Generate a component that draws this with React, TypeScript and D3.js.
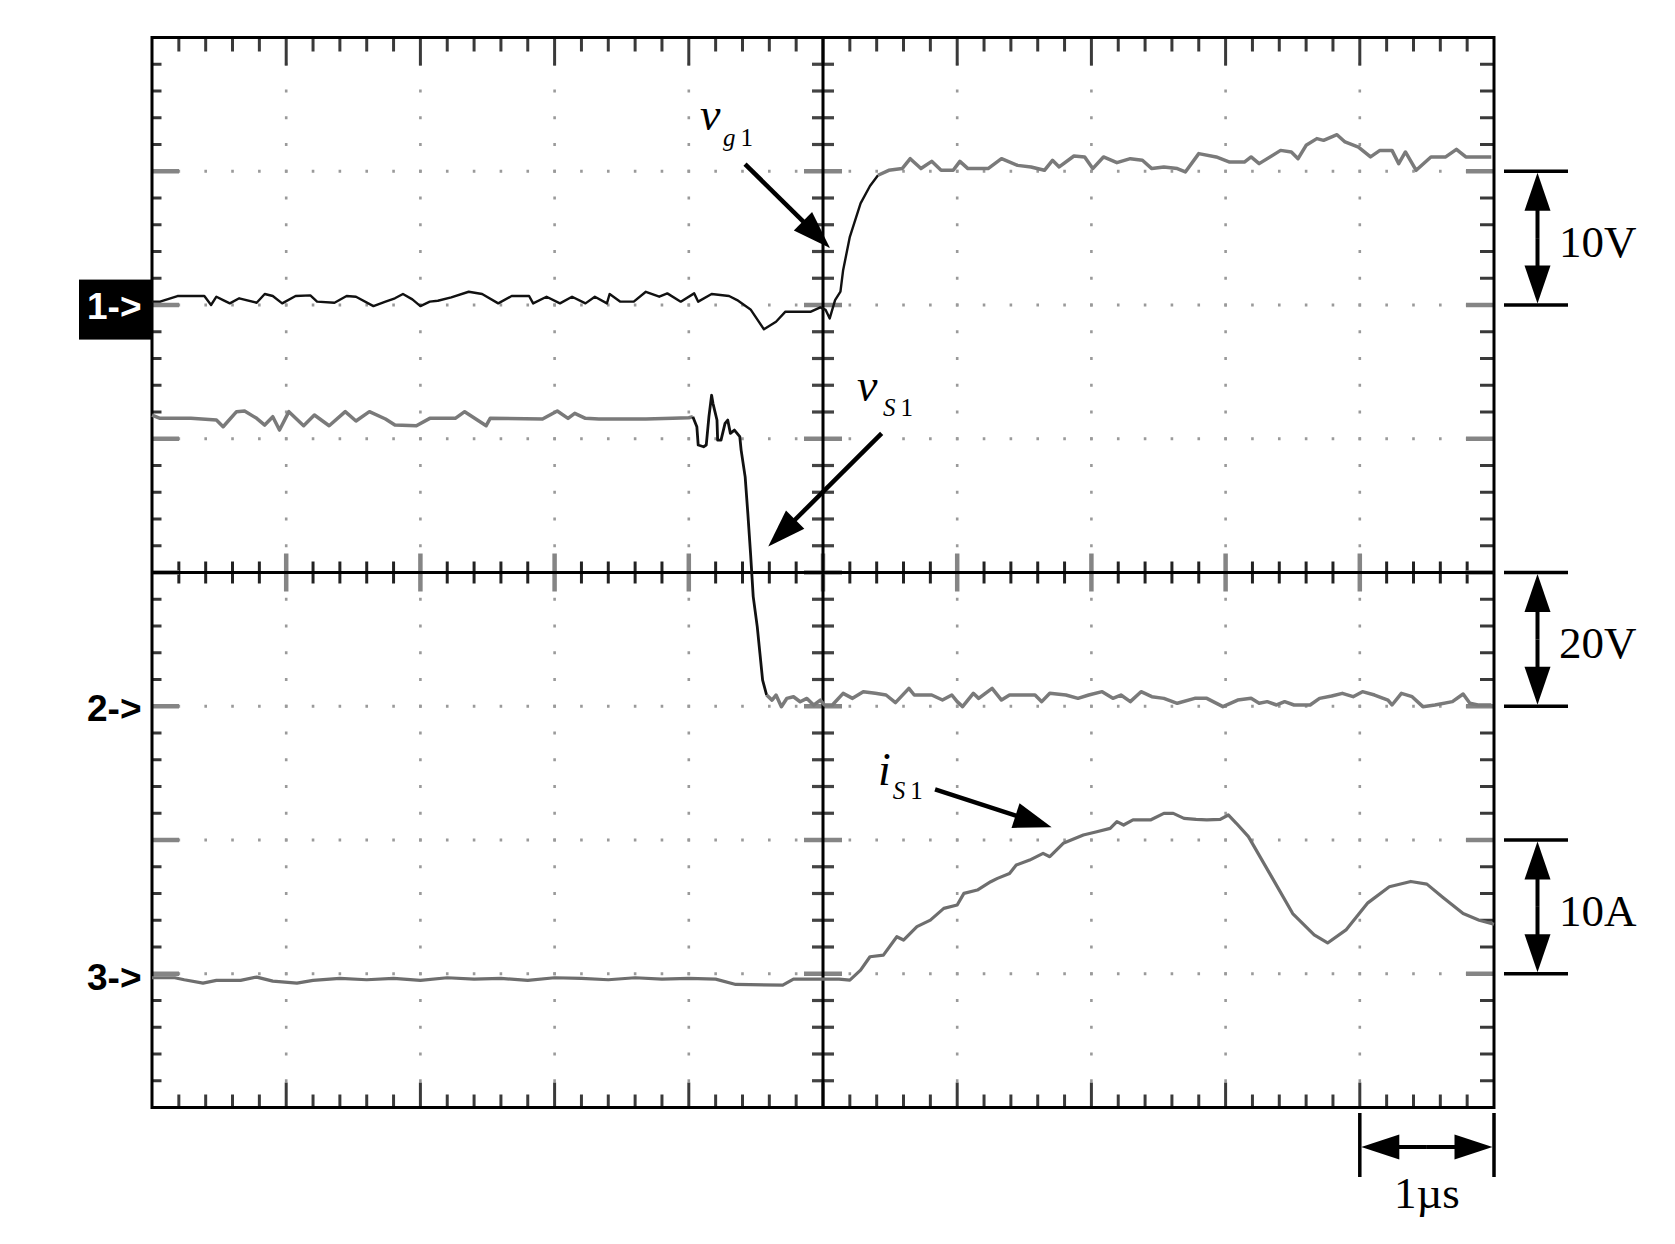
import React from 'react';
import * as d3 from 'd3';

// ---- data (time in µs, channel values in their own units) ----
const vg1T = [-5.0,-4.94,-4.81,-4.61,-4.56,-4.52,-4.47,-4.42,-4.35,-4.22,-4.16,-4.10,-4.03,-3.93,-3.82,-3.77,-3.64,-3.55,-3.48,-3.35,-3.26,-3.19,-3.13,-3.06,-3.00,-2.93,-2.87,-2.77,-2.64,-2.54,-2.42,-2.32,-2.19,-2.16,-2.06,-1.96,-1.87,-1.77,-1.70,-1.61,-1.59,-1.51,-1.41,-1.32,-1.22,-1.16,-1.06,-0.96,-0.93,-0.83,-0.70,-0.64,-0.54,-0.44,-0.35,-0.28,-0.09,-0.02,0.02,0.05,0.09,0.13,0.15,0.20,0.28,0.35,0.41,0.49,0.59,0.65,0.73,0.81,0.88,0.97,1.02,1.08,1.23,1.33,1.45,1.55,1.65,1.71,1.76,1.87,1.95,2.01,2.09,2.19,2.29,2.38,2.45,2.54,2.64,2.70,2.80,2.93,3.03,3.14,3.19,3.25,3.41,3.49,3.54,3.60,3.68,3.73,3.83,3.89,3.99,4.08,4.15,4.24,4.29,4.34,4.42,4.53,4.64,4.72,4.79,4.98];
const vg1V = [0.25,0.25,0.67,0.67,0.0,0.62,0.37,0.12,0.50,0.17,0.82,0.67,0.12,0.67,0.72,0.25,0.17,0.67,0.62,-0.08,0.25,0.50,0.82,0.42,-0.08,0.25,0.32,0.57,0.99,0.82,0.12,0.67,0.67,0.12,0.62,0.12,0.62,0.12,0.62,0.12,0.82,0.25,0.25,0.99,0.62,0.87,0.25,0.87,0.25,0.82,0.67,0.37,-0.33,-1.82,-1.25,-0.50,-0.50,-0.18,-0.37,-1.0,0.37,1.0,2.6,5.1,7.6,8.9,9.7,10.07,10.2,10.94,10.2,10.74,10.07,10.07,10.74,10.2,10.2,10.94,10.44,10.32,10.07,10.82,10.32,11.14,11.07,10.2,11.07,10.64,10.94,10.82,10.2,10.32,10.2,9.95,11.32,11.07,10.69,10.69,11.07,10.57,11.56,11.44,10.94,11.94,12.44,12.31,12.73,12.19,11.81,11.07,11.56,11.56,10.57,11.44,10.07,11.07,11.07,11.64,11.07,11.07];

const vs1T = [-5.0,-4.94,-4.71,-4.52,-4.47,-4.37,-4.31,-4.22,-4.16,-4.10,-4.05,-3.98,-3.87,-3.79,-3.68,-3.56,-3.48,-3.38,-3.26,-3.19,-3.03,-2.93,-2.74,-2.67,-2.51,-2.48,-2.09,-1.98,-1.90,-1.85,-1.77,-1.67,-1.32,-1.12,-1.00,-0.97,-0.94,-0.93,-0.89,-0.87,-0.85,-0.83,-0.82,-0.79,-0.785,-0.76,-0.73,-0.71,-0.69,-0.66,-0.62,-0.61,-0.58,-0.56,-0.54,-0.52,-0.49,-0.47,-0.45,-0.42,-0.38,-0.35,-0.31,-0.27,-0.22,-0.17,-0.12,-0.07,-0.02,0.01,0.07,0.15,0.22,0.30,0.39,0.47,0.54,0.64,0.68,0.81,0.89,0.96,1.00,1.04,1.12,1.16,1.26,1.33,1.39,1.58,1.63,1.69,1.81,1.90,1.98,2.08,2.16,2.22,2.29,2.37,2.45,2.54,2.64,2.77,2.86,2.98,3.09,3.19,3.25,3.31,3.38,3.44,3.51,3.63,3.70,3.79,3.87,3.95,4.02,4.11,4.21,4.24,4.31,4.39,4.47,4.56,4.69,4.77,4.82,4.88,4.98];
const vs1V = [43.55,43.05,43.05,42.8,41.8,44.05,44.15,43.05,42.05,43.3,41.3,44.05,41.95,43.55,41.95,44.05,42.65,44.05,42.95,42.05,41.95,43.05,43.05,44.05,41.95,43.05,42.95,44.15,43.05,43.8,43.05,42.95,42.95,43.05,43.15,43.3,41.8,39.06,38.8,39.06,43.3,46.5,45.3,42.8,39.8,39.8,42.3,42.8,40.8,41.3,40.3,38.3,34.3,28.8,22.9,16.4,11.9,7.9,3.9,1.67,0.92,1.67,-0.07,1.17,1.42,0.67,1.17,0.17,0.92,0.19,0.19,1.93,1.18,2.18,1.93,1.68,0.54,2.68,1.68,1.68,0.93,1.68,0.69,-0.06,1.93,1.18,2.68,0.93,1.68,1.68,0.69,1.93,1.68,1.18,1.68,2.18,1.18,1.68,0.69,2.18,1.43,1.18,0.44,1.18,1.18,-0.06,0.93,1.18,0.44,0.69,0.19,0.69,0.19,0.19,1.18,1.53,1.93,1.43,2.18,1.68,0.93,0.19,1.93,1.43,-0.06,0.19,0.69,1.83,0.44,0.19,0.19];

const is1T = [-5.0,-4.83,-4.76,-4.62,-4.52,-4.34,-4.22,-4.10,-3.92,-3.80,-3.60,-3.40,-3.20,-3.00,-2.80,-2.60,-2.40,-2.20,-2.00,-1.80,-1.60,-1.40,-1.20,-1.00,-0.80,-0.65,-0.30,-0.22,0.12,0.20,0.28,0.35,0.45,0.55,0.60,0.70,0.80,0.90,1.00,1.05,1.15,1.25,1.30,1.39,1.44,1.54,1.64,1.69,1.79,1.94,2.04,2.14,2.19,2.24,2.31,2.44,2.54,2.61,2.69,2.78,2.86,2.96,3.02,3.08,3.17,3.34,3.50,3.66,3.76,3.90,4.06,4.22,4.38,4.50,4.62,4.77,4.89,5.0];
const is1A = [-0.3,-0.3,-0.45,-0.7,-0.5,-0.5,-0.25,-0.55,-0.7,-0.5,-0.35,-0.45,-0.35,-0.5,-0.3,-0.4,-0.35,-0.5,-0.3,-0.35,-0.45,-0.3,-0.4,-0.35,-0.4,-0.8,-0.85,-0.4,-0.4,-0.48,0.27,1.27,1.39,2.77,2.52,3.52,4.01,4.89,5.14,6.01,6.26,6.88,7.13,7.5,8.13,8.5,9.0,8.75,9.75,10.37,10.62,10.87,11.37,11.12,11.5,11.5,11.99,11.99,11.62,11.54,11.5,11.54,11.87,11.25,10.25,7.3,4.5,2.9,2.3,3.3,5.3,6.5,6.9,6.7,5.7,4.5,4.0,3.7];

const channelMarkers = ['1->', '2->', '3->'];
const scaleLabels = ['10V', '20V', '10A'];
const timeLabel = '1µs';

// ---- layout ----
const W = 1675, H = 1244;
const X0 = 152, X1 = 1494, Y0 = 37.5, Y1 = 1107.5;

type P = [number, number];
const zip = (a: number[], b: number[]): P[] => a.map((t, i) => [t, b[i]]);
const between = (pts: P[], lo: number, hi: number) => pts.filter(p => p[0] >= lo && p[0] <= hi);

function Arrow({ x1, y1, x2, y2, len = 38, hw = 13, w = 4.5 }: any) {
  const dx = x2 - x1, dy = y2 - y1, L = Math.hypot(dx, dy);
  const ux = dx / L, uy = dy / L;
  const bx = x2 - ux * len, by = y2 - uy * len;
  const px = -uy, py = ux;
  return (
    <g>
      <line x1={x1} y1={y1} x2={bx + ux * 2} y2={by + uy * 2} stroke="#000" strokeWidth={w} />
      <polygon points={`${x2},${y2} ${bx + px * hw},${by + py * hw} ${bx - px * hw},${by - py * hw}`} fill="#000" />
    </g>
  );
}

export default function App() {
  const x = d3.scaleLinear().domain([-5, 5]).range([X0, X1]);
  const xd = d3.scaleLinear().domain([0, 10]).range([X0, X1]);
  const yd = d3.scaleLinear().domain([0, 8]).range([Y1, Y0]);
  const y1 = d3.scaleLinear().domain([-60, 20]).range([Y1, Y0]);   // ch1 10 V/div
  const y2 = d3.scaleLinear().domain([-60, 100]).range([Y1, Y0]);  // ch2 20 V/div
  const y3 = d3.scaleLinear().domain([-10, 70]).range([Y1, Y0]);   // ch3 10 A/div

  const l1 = d3.line<P>().x(d => x(d[0])).y(d => y1(d[1]));
  const l2 = d3.line<P>().x(d => x(d[0])).y(d => y2(d[1]));
  const l3 = d3.line<P>().x(d => x(d[0])).y(d => y3(d[1]));

  const vg1 = zip(vg1T, vg1V);
  const vs1 = zip(vs1T, vs1V);
  const is1 = zip(is1T, is1A);

  const minorX = d3.range(1, 50);
  const minorY = d3.range(1, 40);
  const tickCol = '#3a3a3a';
  const majorCol = '#858585';
  const cx = xd(5), cy = yd(4);

  const dots: JSX.Element[] = [];
  [1, 2, 3, 4, 6, 7, 8, 9].forEach(k => {
    minorY.forEach(j => dots.push(<rect key={`v${k}-${j}`} x={xd(k) - 1.3} y={yd(j / 5) - 1.5} width={2.6} height={3} fill="#9a9a9a" />));
  });
  [1, 2, 3, 5, 6, 7].forEach(k => {
    minorX.forEach(i => dots.push(<rect key={`h${k}-${i}`} x={xd(i / 5) - 1.3} y={yd(k) - 1.5} width={2.6} height={3} fill="#9a9a9a" />));
  });

  const ticks: JSX.Element[] = [];
  minorX.forEach(i => {
    const X = xd(i / 5), maj = i % 5 === 0;
    ticks.push(<line key={`t${i}`} x1={X} x2={X} y1={Y0} y2={Y0 + (maj ? 28 : 14)} stroke={tickCol} strokeWidth={3} />);
    ticks.push(<line key={`b${i}`} x1={X} x2={X} y1={Y1} y2={Y1 - (maj ? 25 : 13)} stroke={tickCol} strokeWidth={3} />);
    ticks.push(<line key={`c${i}`} x1={X} x2={X} y1={cy - (maj ? 19 : 11)} y2={cy + (maj ? 19 : 11)} stroke={maj ? majorCol : '#222'} strokeWidth={maj ? 4.5 : 3} />);
  });
  minorY.forEach(j => {
    const Y = yd(j / 5), maj = j % 5 === 0;
    ticks.push(<line key={`l${j}`} x1={X0} x2={X0 + (maj ? 27 : 9.5)} y1={Y} y2={Y} stroke={maj ? majorCol : tickCol} strokeWidth={maj ? 4.5 : 3} />);
    ticks.push(<line key={`r${j}`} x1={X1} x2={X1 - (maj ? 28 : 14)} y1={Y} y2={Y} stroke={maj ? majorCol : tickCol} strokeWidth={maj ? 4.5 : 3} />);
    ticks.push(<line key={`m${j}`} x1={cx - (maj ? 19 : 11)} x2={cx + (maj ? 19 : 11)} y1={Y} y2={Y} stroke={maj ? majorCol : '#444'} strokeWidth={maj ? 4.5 : 3.2} />);
  });

  const serif = '"Liberation Serif", "Times New Roman", serif';
  const sans = '"Liberation Sans", Arial, sans-serif';

  // scale bars (vertical double arrows), in grid divisions from bottom
  const bars = [
    { lo: 6, hi: 7, label: scaleLabels[0] },
    { lo: 3, hi: 4, label: scaleLabels[1] },
    { lo: 1, hi: 2, label: scaleLabels[2] },
  ];
  const barX = 1537.5;

  return (
    <div style={{ position: 'absolute', left: 0, top: 0 }}>
      <svg width={W} height={H} style={{ display: 'block', background: '#fff' }}>
        <rect width={W} height={H} fill="#fff" />
        {dots}
        {ticks}
        <line x1={cx} x2={cx} y1={Y0} y2={Y1} stroke="#000" strokeWidth={3} />
        <line x1={X0} x2={X1} y1={cy} y2={cy} stroke="#000" strokeWidth={3} />
        <rect x={X0} y={Y0} width={X1 - X0} height={Y1 - Y0} fill="none" stroke="#000" strokeWidth={3} />

        {/* traces */}
        <g fill="none" strokeLinejoin="round">
          <path d={l3(is1) || ''} stroke="#6e6e6e" strokeWidth={3.2} />
          <path d={l2(between(vs1, -5, -0.97)) || ''} stroke="#7a7a7a" strokeWidth={3.5} />
          <path d={l2(between(vs1, -0.97, -0.42)) || ''} stroke="#111" strokeWidth={2.8} />
          <path d={l2(between(vs1, -0.42, 5)) || ''} stroke="#7a7a7a" strokeWidth={3.5} />
          <path d={l1(between(vg1, -5, 0.41)) || ''} stroke="#111" strokeWidth={2.4} />
          <path d={l1(between(vg1, 0.41, 5)) || ''} stroke="#7a7a7a" strokeWidth={3.5} />
        </g>

        {/* channel markers */}
        <rect x={79} y={y1(1.9)} width={X0 - 79} height={60} fill="#000" />
        <text x={87} y={y1(0) + 13.5} fill="#fff" fontFamily={sans} fontWeight="bold" fontSize={37}>{channelMarkers[0]}</text>
        <text x={87} y={y2(0) + 15} fill="#000" fontFamily={sans} fontWeight="bold" fontSize={37}>{channelMarkers[1]}</text>
        <text x={87} y={y3(0) + 16} fill="#000" fontFamily={sans} fontWeight="bold" fontSize={37}>{channelMarkers[2]}</text>

        {/* annotations */}
        <text x={x(-0.917)} y={y1(13.08)} fontFamily={serif} fontSize={46} fontStyle="italic">v</text>
        <text x={x(-0.745)} y={y1(11.89)} fontFamily={serif} fontSize={25}><tspan fontStyle="italic">g</tspan><tspan dx={5}>1</tspan></text>
        <Arrow x1={x(-0.581)} y1={y1(10.54)} x2={x(0.052)} y2={y1(4.26)} />

        <text x={x(0.253)} y={y2(45.6)} fontFamily={serif} fontSize={46} fontStyle="italic">v</text>
        <text x={x(0.447)} y={y2(43.4)} fontFamily={serif} fontSize={25}><tspan fontStyle="italic">S</tspan><tspan dx={5}>1</tspan></text>
        <Arrow x1={x(0.437)} y1={y2(40.8)} x2={x(-0.408)} y2={y2(23.9)} />

        <text x={x(0.41)} y={y3(14.1)} fontFamily={serif} fontSize={46} fontStyle="italic">i</text>
        <text x={x(0.52)} y={y3(13.07)} fontFamily={serif} fontSize={25}><tspan fontStyle="italic">S</tspan><tspan dx={5}>1</tspan></text>
        <Arrow x1={x(0.835)} y1={y3(13.78)} x2={x(1.704)} y2={y3(10.95)} />

        {/* vertical scale bars */}
        {bars.map((b, i) => {
          const top = yd(b.hi), bot = yd(b.lo);
          return (
            <g key={i}>
              <line x1={1504} x2={1568} y1={top} y2={top} stroke="#000" strokeWidth={3.5} />
              <line x1={1504} x2={1568} y1={bot} y2={bot} stroke="#000" strokeWidth={3.5} />
              <Arrow x1={barX} y1={(top + bot) / 2} x2={barX} y2={top + 1.5} len={38} hw={13} w={4} />
              <Arrow x1={barX} y1={(top + bot) / 2} x2={barX} y2={bot - 1.5} len={38} hw={13} w={4} />
              <text x={1559} y={(top + bot) / 2 + 19} fontFamily={serif} fontSize={45}>{b.label}</text>
            </g>
          );
        })}

        {/* time scale bar */}
        {(() => {
          const a = x(4), b = x(5), yy = 1147;
          return (
            <g>
              <line x1={a} x2={a} y1={1113} y2={1177} stroke="#000" strokeWidth={3.5} />
              <line x1={b} x2={b} y1={1113} y2={1177} stroke="#000" strokeWidth={3.5} />
              <Arrow x1={(a + b) / 2} y1={yy} x2={a + 1.5} y2={yy} len={38} hw={12.5} w={4} />
              <Arrow x1={(a + b) / 2} y1={yy} x2={b - 1.5} y2={yy} len={38} hw={12.5} w={4} />
              <text x={(a + b) / 2} y={1208} textAnchor="middle" fontFamily={serif} fontSize={45}>{timeLabel}</text>
            </g>
          );
        })()}
      </svg>
    </div>
  );
}
